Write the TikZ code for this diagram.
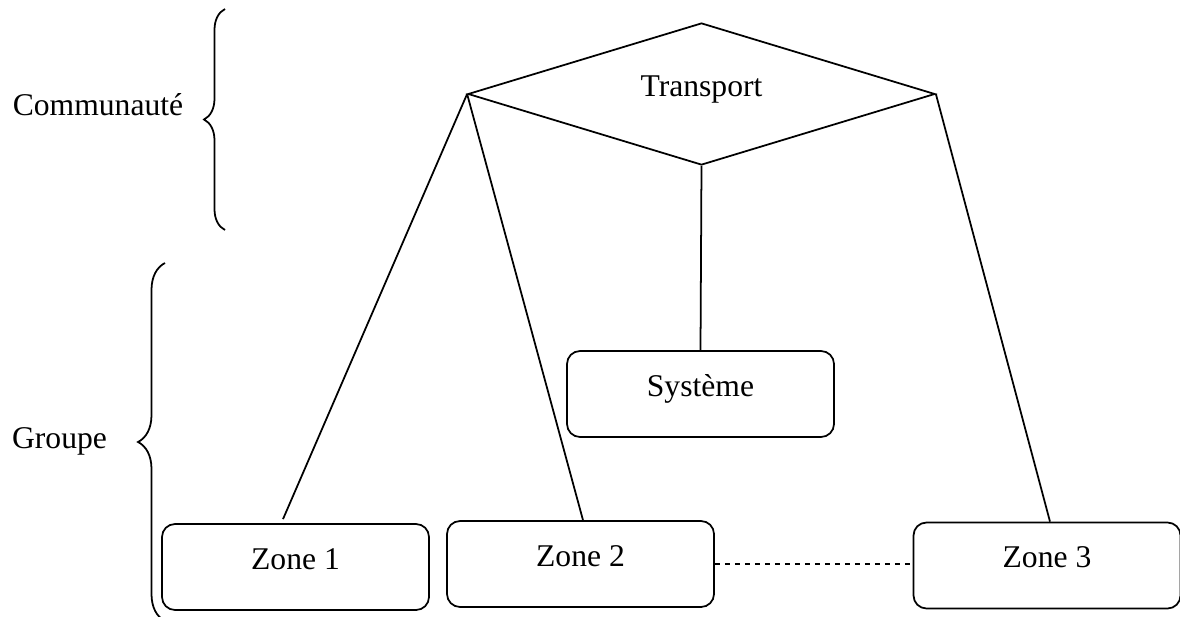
\documentclass[tikz,border=0pt]{standalone}
\usepackage{fontspec}
\setmainfont{Liberation Serif}
\usetikzlibrary{shapes.geometric, decorations.pathreplacing}

\begin{document}
\begin{tikzpicture}[x=0.2mm, y=-0.2mm,
  losange/.style={diamond, draw, line width=1pt, aspect=3.3, minimum width=93.4mm,
                  minimum height=28.4mm, inner sep=0pt, text height=3mm, text depth=2.2mm,
                  font=\fontsize{18}{21}\selectfont},
  zonebox/.style={rectangle, rounded corners=2.6mm, draw, line width=1pt,
                  minimum width=53.4mm, minimum height=17.2mm, text height=3mm, text depth=2.2mm,
                  font=\fontsize{18}{21}\selectfont},
  niveau/.style={anchor=base, font=\fontsize{18}{21}\selectfont},
  lien/.style={line width=1pt},
  accolade/.style={decorate, line width=1pt}
]
\useasboundingbox (0,0) rectangle (1180,617);

\node[losange] (transport) at (701.5,94) {Transport};
\node[zonebox] (systeme) at (700.5,394) {Système};
\node[zonebox] (zone1) at (295.5,567) {Zone 1};
\node[zonebox] (zone2) at (580.5,564) {Zone 2};
\node[zonebox] (zone3) at (1047,565.5) {Zone 3};

\node[niveau] (communaute) at (98,115) {Communauté};
\node[niveau] (groupe) at (59.5,448) {Groupe};

\draw[accolade, decoration={brace, amplitude=4.2mm}] (225,230) -- (225,9);
\draw[accolade, decoration={brace, amplitude=5.4mm}] (165,621) -- (165,263);

\draw[lien] (transport.west) -- ([xshift=-2.5mm, yshift=0.8mm]zone1.north);
\draw[lien] (transport.west) -- ([xshift=0.5mm]zone2.north);
\draw[lien] (transport.south) -- (systeme.north);
\draw[lien] (transport.east) -- ([xshift=0.6mm]zone3.north);
\draw[lien, dash pattern=on 1.1mm off 0.9mm] (zone2.east) -- (zone2.east -| zone3.west);
\end{tikzpicture}
\end{document}
